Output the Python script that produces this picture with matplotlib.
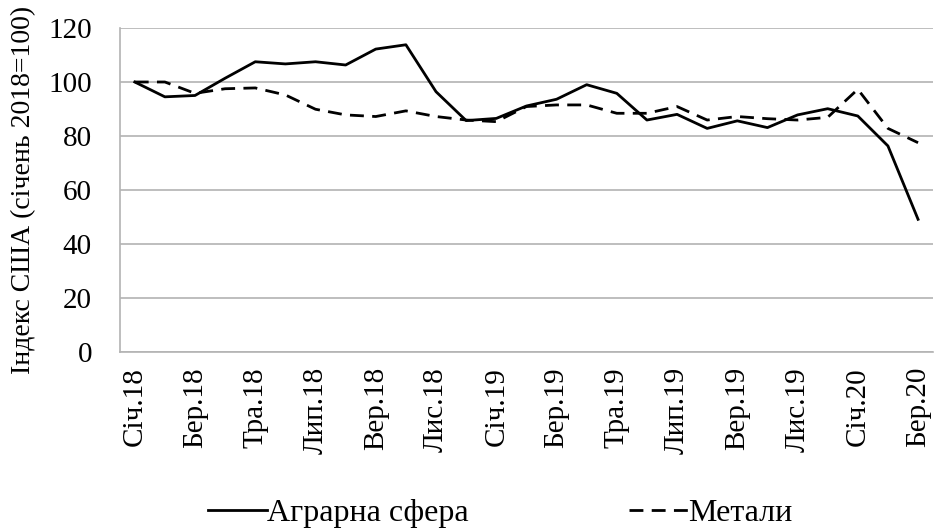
import matplotlib
matplotlib.use('Agg')
import matplotlib.pyplot as plt
import numpy as np

# Індекси цін (січень 2018 = 100), щомісячно з січня 2018 по березень 2020
months = ['Січ.18', 'Лют.18', 'Бер.18', 'Кві.18', 'Тра.18', 'Чер.18', 'Лип.18',
          'Сер.18', 'Вер.18', 'Жов.18', 'Лис.18', 'Гру.18',
          'Січ.19', 'Лют.19', 'Бер.19', 'Кві.19', 'Тра.19', 'Чер.19', 'Лип.19',
          'Сер.19', 'Вер.19', 'Жов.19', 'Лис.19', 'Гру.19',
          'Січ.20', 'Лют.20', 'Бер.20']
agro = [100, 94.5, 95, 101.4, 107.5, 106.7, 107.5, 106.3, 112.2, 113.8, 96.4, 85.7,
        86.5, 91.1, 93.6, 99, 95.8, 85.9, 88, 82.8, 85.6, 83.1, 87.8, 90.1,
        87.4, 76.3, 49.1]
metals = [100, 100, 95.8, 97.5, 97.8, 95.2, 89.9, 87.8, 87.2, 89.3, 87.2, 85.9,
          85.3, 90.9, 91.5, 91.5, 88.4, 88.4, 90.9, 85.9, 87.2, 86.4, 85.9, 86.9,
          97.3, 82.8, 77.5]
yticks = [0, 20, 40, 60, 80, 100, 120]

plt.rcParams['font.family'] = ['Liberation Serif', 'DejaVu Serif']
plt.rcParams['font.size'] = 21

fig = plt.figure(figsize=(9.35, 5.29), dpi=100)
ax = fig.add_axes([0.128, 0.335, 0.870, 0.612])

x = np.arange(len(months))
ax.plot(x, agro, color='black', lw=2, label='Аграрна сфера')
ax.plot(x, metals, color='black', lw=2, dashes=(5, 3), label='Метали')

ax.set_xlim(-0.5, len(months) - 0.5)
ax.set_ylim(0, 120)
ax.set_yticks(yticks)
ax.set_xticks(x[::2])
ax.set_xticklabels(months[::2], rotation=90)
ax.tick_params(axis='both', length=0, labelsize=21)
ax.tick_params(axis='y', pad=20)
ax.tick_params(axis='x', pad=11)

ax.grid(axis='y', color='#b3b3b3', lw=1.2)
ax.set_axisbelow(True)
for s in ['top', 'right']:
    ax.spines[s].set_visible(False)
for s in ['left', 'bottom']:
    ax.spines[s].set_color('#b3b3b3')
    ax.spines[s].set_linewidth(1.2)

ax.set_ylabel('Індекс США (січень 2018=100)', fontsize=20)
ax.yaxis.set_label_coords(-0.103, 0.5)

fig.legend(loc='center', bbox_to_anchor=(0.535, 0.03), ncol=2, frameon=False,
           fontsize=23, handlelength=1.85, handletextpad=0.0, columnspacing=5.0)

fig.savefig('out.png', dpi=100)
